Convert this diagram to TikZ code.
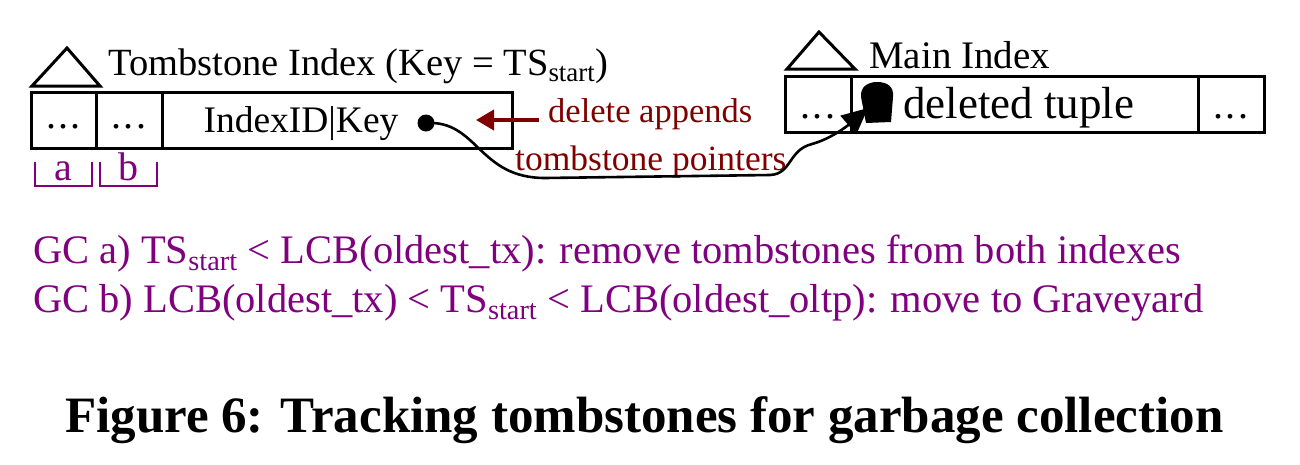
\documentclass[tikz,border=0pt]{standalone}
\usepackage{fontspec}
\setmainfont{Liberation Serif}
\usetikzlibrary{arrows.meta}
\definecolor{gcpurple}{RGB}{128,0,128}
\definecolor{dred}{RGB}{128,0,0}
\newcommand{\mydots}{.\kern2.2pt.\kern2.2pt.}
\tikzset{
  cell/.style={draw, line width=3pt, minimum height=56pt, inner sep=0pt, outer sep=0pt, anchor=north west},
  lbl/.style={anchor=base west, inner sep=0pt},
  clbl/.style={anchor=base, inner sep=0pt},
  tri/.style={draw, line width=3pt, line join=miter},
  brack/.style={draw=gcpurple, line width=2.5pt},
  conn/.style={line width=2.6pt},
}
\begin{document}
\begin{tikzpicture}[x=1pt,y=-1pt]
\useasboundingbox[fill=white] (0,0) rectangle (1300,464);

% Tombstone index
\draw[tri] (32,86) -- (67,48) -- (100,86) -- cycle;
\node[lbl, font=\fontsize{38.5}{40}\selectfont] (ttitle) at (108,75) {Tombstone Index (Key = TS\textsubscript{start})};
\node[cell, minimum width=65pt] (tc1) at (31,92) {};
\node[cell, minimum width=66pt] (tc2) at (tc1.north east) {};
\node[cell, minimum width=350pt] (tc3) at (tc2.north east) {};
\node[clbl, font=\fontsize{40}{40}\selectfont] (td1) at (63.5,128) {\mydots};
\node[clbl, font=\fontsize{40}{40}\selectfont] (td2) at (129,128) {\mydots};
\node[clbl, font=\fontsize{37.5}{40}\selectfont] (tkey) at (301,132) {IndexID|Key};
\node[circle, fill=black, inner sep=0pt, minimum size=17pt] (dot) at (426,123) {};

% brackets
\draw[brack] (35,162) -- (35,186) -- (92,186) -- (92,162);
\draw[brack] (100,162) -- (100,186) -- (157,186) -- (157,162);
\node[clbl, text=gcpurple, font=\fontsize{40}{40}\selectfont] (la) at (63.5,180) {a};
\node[clbl, text=gcpurple, font=\fontsize{40}{40}\selectfont] (lb) at (128.5,180) {b};

% labels in dark red
\node[lbl, text=dred, font=\fontsize{34.5}{40}\selectfont] (da) at (548,122) {delete appends};
\node[lbl, text=dred, font=\fontsize{35.5}{40}\selectfont] (tp) at (515,170) {tombstone pointers};
\coordinate (ra1) at (539,120);
\coordinate (ra2) at (476,120);
\draw[dred, line width=4pt, -{Triangle[length=18pt,width=20pt]}] (ra1) -- (ra2);

% Main index
\draw[tri] (787,69) -- (819,32) -- (855,69) -- cycle;
\node[lbl, font=\fontsize{39}{40}\selectfont] (mtitle) at (869,68) {Main Index};
\node[cell, minimum width=66pt] (mc1) at (785,76) {};
\node[cell, minimum width=347pt] (mc2) at (mc1.north east) {};
\node[cell, minimum width=66pt] (mc3) at (mc2.north east) {};
\node[clbl, font=\fontsize{40}{40}\selectfont] (md1) at (818,118) {\mydots};
\node[clbl, font=\fontsize{40}{40}\selectfont] (md3) at (1231,118) {\mydots};
\node[lbl, font=\fontsize{45}{48}\selectfont] (mtuple) at (903,118) {deleted tuple};

% tombstone blob
\fill (866,123) -- (861,97) .. controls (860,86) and (869,82) .. (877,82)
  .. controls (888,82) and (894,87) .. (893,97) -- (891,122) -- cycle;
\coordinate (tip) at (868,108);

% connector
\draw[conn, -{Triangle[length=26pt,width=24pt]}] (dot.center)
  .. controls (478,120) and (478,178) .. (545,178)
  -- (770,175)
  .. controls (792,174) and (788,150) .. (812,144)
  .. controls (830,139) and (846,127) .. (tip);

% GC rules
\node[lbl, text=gcpurple, font=\fontsize{40.5}{44}\selectfont] (gca) at (33,263)
  {GC a) TS\textsubscript{start} < LCB(oldest\_tx): remove tombstones from both indexes};
\node[lbl, text=gcpurple, font=\fontsize{40.5}{44}\selectfont] (gcb) at (33,312)
  {GC b) LCB(oldest\_tx) < TS\textsubscript{start} < LCB(oldest\_oltp): move to Graveyard};

% caption
\node[lbl, font=\fontsize{51}{54}\selectfont\bfseries] (cap) at (65,432)
  {Figure 6: Tracking tombstones for garbage collection};
\end{tikzpicture}
\end{document}
